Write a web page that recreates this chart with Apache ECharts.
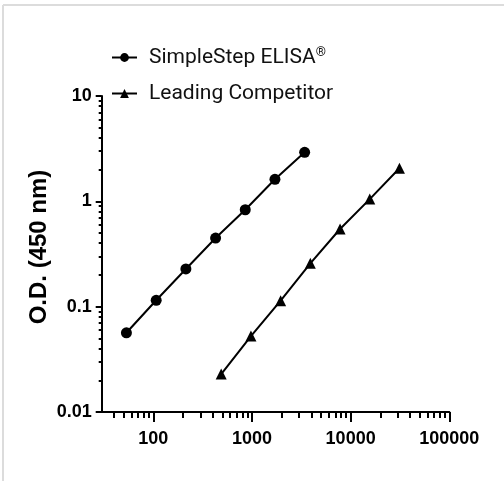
<!DOCTYPE html>
<html>
<head>
<meta charset="utf-8">
<script src="https://cdn.jsdelivr.net/npm/echarts@6/dist/echarts.min.js"></script>
<style>
html,body{margin:0;padding:0;background:#fff;}
#c{width:504px;height:481px;}
</style>
</head>
<body>
<div id="c"></div>
<script>
// Data
const simpleStepX = [53.4, 107, 214, 428, 855, 1710, 3420];
const simpleStepY = [0.0565, 0.115, 0.228, 0.448, 0.832, 1.62, 2.92];
const competitorX = [488, 977, 1953, 3906, 7813, 15625, 31250];
const competitorY = [0.0229, 0.0526, 0.114, 0.258, 0.546, 1.05, 2.06];
const seriesNames = ['SimpleStep ELISA®', 'Leading Competitor'];
const xMajorTicks = [100, 1000, 10000, 100000];
const xMinorTicks = [40, 50, 60, 70, 80, 90, 200, 300, 400, 500, 600, 700, 800, 900,
  2000, 3000, 4000, 5000, 6000, 7000, 8000, 9000, 20000, 30000, 40000, 50000, 60000, 70000, 80000, 90000];
const yMajorTicks = [0.01, 0.1, 1, 10];
const yMinorTicks = [0.02, 0.03, 0.04, 0.05, 0.06, 0.07, 0.08, 0.09, 0.2, 0.3, 0.4, 0.5, 0.6, 0.7, 0.8, 0.9,
  2, 3, 4, 5, 6, 7, 8, 9];
const yAxisTitle = 'O.D. (450 nm)';

const labelFont = "'Liberation Sans',sans-serif";

const chart = echarts.init(document.getElementById('c'), null, {renderer: 'canvas'});
const pair = (xs, ys) => xs.map((x, i) => [x, ys[i]]);
const fmt = v => String(+v.toPrecision(6));

chart.setOption({
  animation: false,
  backgroundColor: '#fff',
  grid: {left: 101.7, right: 54.7, top: 96, bottom: 69, containLabel: false},
  legend: {
    orient: 'vertical',
    left: 111,
    top: 46,
    padding: 0,
    itemWidth: 25,
    itemHeight: 11,
    itemGap: 15,
    data: seriesNames,
    formatter: n => n.replace('®', '{sup|®}'),
    textStyle: {
      fontFamily: "Roboto,'Liberation Sans',sans-serif",
      fontSize: 21,
      color: '#111',
      padding: [0, 0, 0, 7],
      rich: {
        sup: {fontSize: 13, verticalAlign: 'top', padding: [0, 0, 10, 0], fontFamily: "Roboto,sans-serif"}
      }
    }
  },
  xAxis: [
    {
      type: 'log', logBase: 10, min: 30, max: 100000,
      axisLine: {show: true, onZero: false, lineStyle: {color: '#000', width: 2}},
      axisTick: {show: true, length: 10, lineStyle: {color: '#000', width: 2}, customValues: xMajorTicks},
      axisLabel: {show: true, margin: 18, customValues: xMajorTicks, formatter: fmt,
        fontFamily: labelFont, fontSize: 18, fontWeight: 'bold', color: '#000'},
      splitLine: {show: false}
    },
    {
      type: 'log', logBase: 10, min: 30, max: 100000, gridIndex: 0, position: 'bottom',
      axisLine: {show: false, onZero: false},
      axisTick: {show: true, length: 6, lineStyle: {color: '#000', width: 2}, customValues: xMinorTicks},
      axisLabel: {show: false},
      splitLine: {show: false}
    }
  ],
  yAxis: [
    {
      type: 'log', logBase: 10, min: 0.01, max: 10,
      name: yAxisTitle, nameLocation: 'middle', nameGap: 50, nameMoveOverlap: false,
      nameTextStyle: {fontFamily: "'Liberation Sans','DejaVu Sans',sans-serif", fontSize: 24, fontWeight: 'bold', color: '#000', padding: [0, 0, 0, 14]},
      axisLine: {show: true, onZero: false, lineStyle: {color: '#000', width: 2}},
      axisTick: {show: true, length: 6, lineStyle: {color: '#000', width: 2}, customValues: yMajorTicks},
      axisLabel: {show: true, margin: 10, customValues: yMajorTicks, formatter: fmt,
        fontFamily: labelFont, fontSize: 18, fontWeight: 'bold', color: '#000'},
      splitLine: {show: false}
    },
    {
      type: 'log', logBase: 10, min: 0.01, max: 10, gridIndex: 0, position: 'left',
      axisLine: {show: false, onZero: false},
      axisTick: {show: true, length: 3, lineStyle: {color: '#000', width: 2}, customValues: yMinorTicks},
      axisLabel: {show: false},
      splitLine: {show: false}
    }
  ],
  series: [
    {
      name: seriesNames[0], type: 'line', xAxisIndex: 0, yAxisIndex: 0,
      data: pair(simpleStepX, simpleStepY),
      symbol: 'circle', symbolSize: 11,
      lineStyle: {color: '#000', width: 2},
      itemStyle: {color: '#000'}
    },
    {
      name: seriesNames[1], type: 'line', xAxisIndex: 0, yAxisIndex: 0,
      data: pair(competitorX, competitorY),
      symbol: 'triangle', symbolSize: 11,
      lineStyle: {color: '#000', width: 2},
      itemStyle: {color: '#000'}
    }
  ],
  graphic: [
    {type: 'line', shape: {x1: 3, y1: 5, x2: 3, y2: 481}, style: {stroke: '#dcdcdc', lineWidth: 2}},
    {type: 'line', shape: {x1: 3, y1: 5, x2: 504, y2: 5}, style: {stroke: '#dcdcdc', lineWidth: 2}}
  ]
});
</script>
</body>
</html>
